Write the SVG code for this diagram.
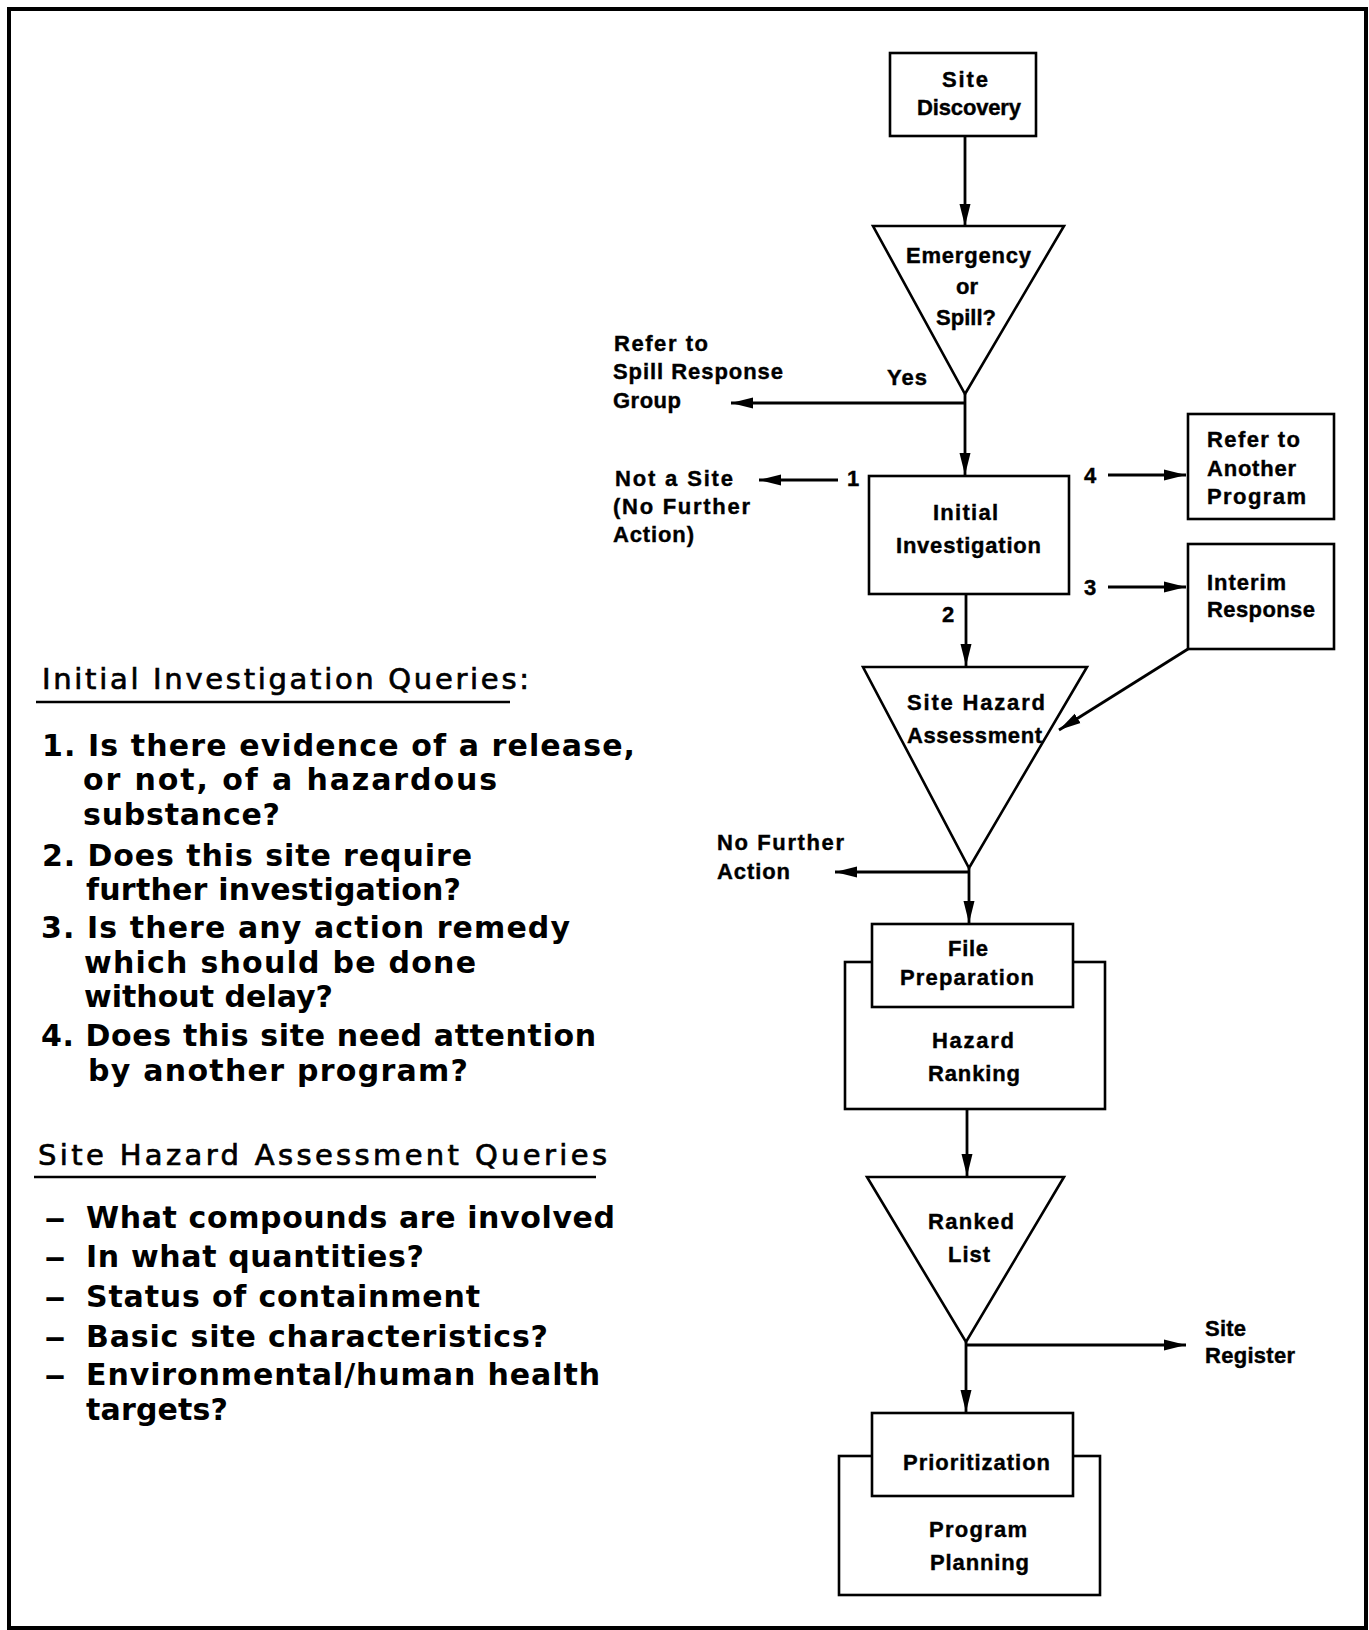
<svg xmlns="http://www.w3.org/2000/svg" width="1369" height="1630" viewBox="0 0 1369 1630">
<defs>
<style>
.ln{stroke:#000;stroke-width:2.8;fill:none}
.sh{fill:#fff;stroke:#000;stroke-width:2.6}
.lbl{font-family:"Liberation Sans",Arial,sans-serif;font-weight:bold;font-size:22px;fill:#000;stroke:#000;stroke-width:0.4}
.q{font-family:"DejaVu Sans",sans-serif;font-weight:bold;font-size:30px;fill:#000}
.h{font-family:"DejaVu Sans",sans-serif;font-size:29px;fill:#000;stroke:#000;stroke-width:0.7}
</style>
<marker id="ah" markerWidth="22" markerHeight="12" refX="22" refY="6" orient="auto" markerUnits="userSpaceOnUse">
<path d="M0,0.5 L22,6 L0,11.5 z" fill="#000"/>
</marker>
</defs>
<rect x="0" y="0" width="1369" height="1630" fill="#fff"/>
<rect x="9" y="9" width="1357" height="1619" fill="none" stroke="#000" stroke-width="4"/>

<g id="connectors">
<line class="ln" x1="965" y1="136" x2="965" y2="226" marker-end="url(#ah)"/>
<line class="ln" x1="965" y1="394" x2="965" y2="475" marker-end="url(#ah)"/>
<line class="ln" x1="965" y1="403" x2="731" y2="403" marker-end="url(#ah)"/>
<line class="ln" x1="838" y1="480" x2="759" y2="480" marker-end="url(#ah)"/>
<line class="ln" x1="1108" y1="475" x2="1186" y2="475" marker-end="url(#ah)"/>
<line class="ln" x1="1108" y1="587" x2="1186" y2="587" marker-end="url(#ah)"/>
<line class="ln" x1="966" y1="594" x2="966" y2="666" marker-end="url(#ah)"/>
<line class="ln" x1="1188" y1="649" x2="1059" y2="730" marker-end="url(#ah)"/>
<line class="ln" x1="969" y1="868" x2="969" y2="923" marker-end="url(#ah)"/>
<line class="ln" x1="969" y1="872" x2="835" y2="872" marker-end="url(#ah)"/>
<line class="ln" x1="967" y1="1109" x2="967" y2="1176" marker-end="url(#ah)"/>
<line class="ln" x1="966" y1="1342" x2="966" y2="1412" marker-end="url(#ah)"/>
<line class="ln" x1="966" y1="1345" x2="1186" y2="1345" marker-end="url(#ah)"/>
<text class="lbl" x="847" y="486">1</text>
<text class="lbl" x="942" y="622">2</text>
<text class="lbl" x="1084" y="595">3</text>
<text class="lbl" x="1084" y="483">4</text>
<text class="lbl" x="887" y="385" textLength="40" lengthAdjust="spacing">Yes</text>
</g>

<g id="site-discovery">
<rect class="sh" x="890" y="53" width="146" height="83"/>
<text class="lbl" x="942" y="87" textLength="46" lengthAdjust="spacing">Site</text>
<text class="lbl" x="917" y="115" textLength="104" lengthAdjust="spacing">Discovery</text>
</g>

<g id="emergency">
<polygon class="sh" points="873,226 1064,226 965,394"/>
<text class="lbl" x="906" y="263" textLength="125" lengthAdjust="spacing">Emergency</text>
<text class="lbl" x="956" y="294" textLength="22" lengthAdjust="spacing">or</text>
<text class="lbl" x="936" y="325" textLength="60" lengthAdjust="spacing">Spill?</text>
</g>

<g id="spill-response">
<text class="lbl" x="614" y="351" textLength="94" lengthAdjust="spacing">Refer to</text>
<text class="lbl" x="613" y="379" textLength="170" lengthAdjust="spacing">Spill Response</text>
<text class="lbl" x="613" y="408" textLength="68" lengthAdjust="spacing">Group</text>
</g>

<g id="not-a-site">
<text class="lbl" x="615" y="486" textLength="118" lengthAdjust="spacing">Not a Site</text>
<text class="lbl" x="613" y="514" textLength="137" lengthAdjust="spacing">(No Further</text>
<text class="lbl" x="613" y="542" textLength="81" lengthAdjust="spacing">Action)</text>
</g>

<g id="initial-investigation">
<rect class="sh" x="869" y="476" width="200" height="118"/>
<text class="lbl" x="933" y="520" textLength="65" lengthAdjust="spacing">Initial</text>
<text class="lbl" x="896" y="553" textLength="145" lengthAdjust="spacing">Investigation</text>
</g>

<g id="another-program">
<rect class="sh" x="1188" y="414" width="146" height="105"/>
<text class="lbl" x="1207" y="447" textLength="93" lengthAdjust="spacing">Refer to</text>
<text class="lbl" x="1207" y="476" textLength="89" lengthAdjust="spacing">Another</text>
<text class="lbl" x="1207" y="504" textLength="99" lengthAdjust="spacing">Program</text>
</g>

<g id="interim-response">
<rect class="sh" x="1188" y="544" width="146" height="105"/>
<text class="lbl" x="1207" y="590" textLength="79" lengthAdjust="spacing">Interim</text>
<text class="lbl" x="1207" y="617" textLength="108" lengthAdjust="spacing">Response</text>
</g>

<g id="site-hazard-assessment">
<polygon class="sh" points="863,667 1087,667 969,868"/>
<text class="lbl" x="907" y="710" textLength="138" lengthAdjust="spacing">Site Hazard</text>
<text class="lbl" x="907" y="743" textLength="135" lengthAdjust="spacing">Assessment</text>
</g>

<g id="no-further-action">
<text class="lbl" x="717" y="850" textLength="127" lengthAdjust="spacing">No Further</text>
<text class="lbl" x="717" y="879" textLength="73" lengthAdjust="spacing">Action</text>
</g>

<g id="hazard-ranking">
<rect class="sh" x="845" y="962" width="260" height="147"/>
<text class="lbl" x="932" y="1048" textLength="82" lengthAdjust="spacing">Hazard</text>
<text class="lbl" x="928" y="1081" textLength="92" lengthAdjust="spacing">Ranking</text>
</g>

<g id="file-preparation">
<rect class="sh" x="872" y="924" width="201" height="83"/>
<text class="lbl" x="948" y="956" textLength="40" lengthAdjust="spacing">File</text>
<text class="lbl" x="900" y="985" textLength="134" lengthAdjust="spacing">Preparation</text>
</g>

<g id="ranked-list">
<polygon class="sh" points="867,1177 1064,1177 966,1342"/>
<text class="lbl" x="928" y="1229" textLength="86" lengthAdjust="spacing">Ranked</text>
<text class="lbl" x="948" y="1262" textLength="42" lengthAdjust="spacing">List</text>
</g>

<g id="site-register">
<text class="lbl" x="1205" y="1336" textLength="41" lengthAdjust="spacing">Site</text>
<text class="lbl" x="1205" y="1363" textLength="90" lengthAdjust="spacing">Register</text>
</g>

<g id="program-planning">
<rect class="sh" x="839" y="1456" width="261" height="139"/>
<text class="lbl" x="929" y="1537" textLength="98" lengthAdjust="spacing">Program</text>
<text class="lbl" x="930" y="1570" textLength="99" lengthAdjust="spacing">Planning</text>
</g>

<g id="prioritization">
<rect class="sh" x="872" y="1413" width="201" height="83"/>
<text class="lbl" x="903" y="1470" textLength="147" lengthAdjust="spacing">Prioritization</text>
</g>

<g id="initial-investigation-queries">
<text class="h" x="42" y="689" textLength="487" lengthAdjust="spacing">Initial Investigation Queries:</text>
<line x1="36" y1="702" x2="510" y2="702" stroke="#000" stroke-width="2.5"/>
<text class="q" x="42" y="756" textLength="593" lengthAdjust="spacing">1. Is there evidence of a release,</text>
<text class="q" x="83" y="790" textLength="414" lengthAdjust="spacing">or not, of a hazardous</text>
<text class="q" x="83" y="825" textLength="197" lengthAdjust="spacing">substance?</text>
<text class="q" x="42" y="866" textLength="430" lengthAdjust="spacing">2. Does this site require</text>
<text class="q" x="86" y="900" textLength="375" lengthAdjust="spacing">further investigation?</text>
<text class="q" x="41" y="938" textLength="529" lengthAdjust="spacing">3. Is there any action remedy</text>
<text class="q" x="84" y="973" textLength="392" lengthAdjust="spacing">which should be done</text>
<text class="q" x="84" y="1007" textLength="249" lengthAdjust="spacing">without delay?</text>
<text class="q" x="41" y="1046" textLength="555" lengthAdjust="spacing">4. Does this site need attention</text>
<text class="q" x="88" y="1081" textLength="380" lengthAdjust="spacing">by another program?</text>
</g>

<g id="site-hazard-assessment-queries">
<text class="h" x="38" y="1165" textLength="569" lengthAdjust="spacing">Site Hazard Assessment Queries</text>
<line x1="34" y1="1177" x2="596" y2="1177" stroke="#000" stroke-width="2.5"/>
<text class="q" x="44" y="1228" textLength="22" lengthAdjust="spacingAndGlyphs">–</text>
<text class="q" x="86" y="1228" textLength="529" lengthAdjust="spacing">What compounds are involved</text>
<text class="q" x="44" y="1267" textLength="22" lengthAdjust="spacingAndGlyphs">–</text>
<text class="q" x="86" y="1267" textLength="338" lengthAdjust="spacing">In what quantities?</text>
<text class="q" x="44" y="1307" textLength="22" lengthAdjust="spacingAndGlyphs">–</text>
<text class="q" x="86" y="1307" textLength="394" lengthAdjust="spacing">Status of containment</text>
<text class="q" x="44" y="1347" textLength="22" lengthAdjust="spacingAndGlyphs">–</text>
<text class="q" x="86" y="1347" textLength="462" lengthAdjust="spacing">Basic site characteristics?</text>
<text class="q" x="44" y="1385" textLength="22" lengthAdjust="spacingAndGlyphs">–</text>
<text class="q" x="86" y="1385" textLength="514" lengthAdjust="spacing">Environmental/human health</text>
<text class="q" x="86" y="1420" textLength="142" lengthAdjust="spacing">targets?</text>
</g>
</svg>
